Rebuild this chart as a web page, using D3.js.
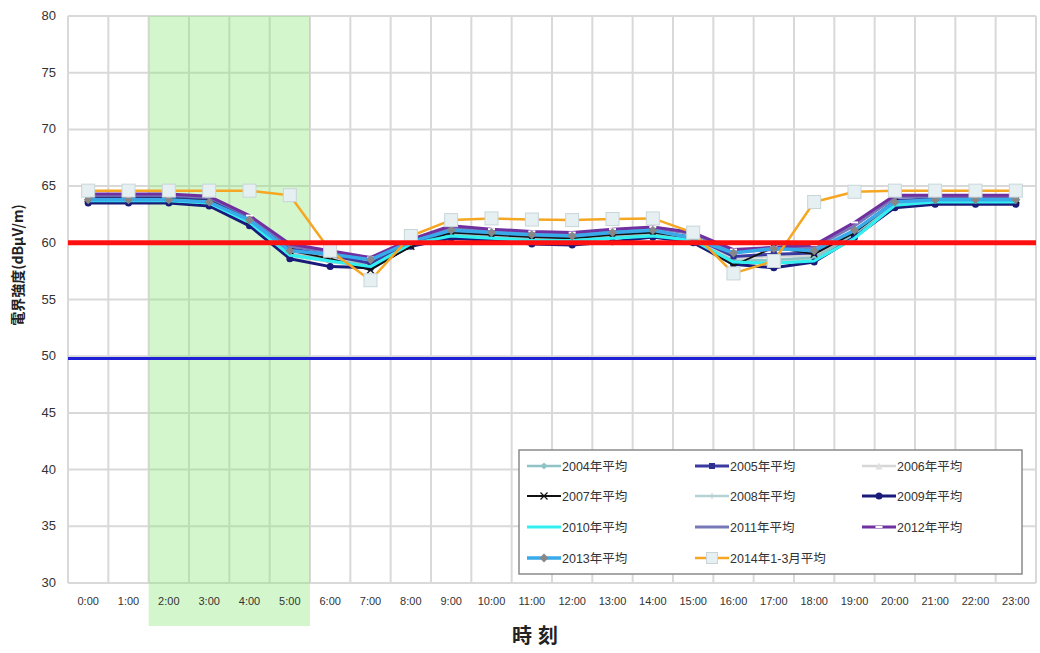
<!DOCTYPE html>
<html><head><meta charset="utf-8">
<script src="https://cdn.jsdelivr.net/npm/d3@7"></script>
<style>body{margin:0;background:#fff;} svg{display:block;}</style>
</head><body>
<svg id="chart" width="1040" height="653"></svg>
<script>
const hours = ["0:00","1:00","2:00","3:00","4:00","5:00","6:00","7:00","8:00","9:00","10:00","11:00","12:00","13:00","14:00","15:00","16:00","17:00","18:00","19:00","20:00","21:00","22:00","23:00"];
const yTicks = [30,35,40,45,50,55,60,65,70,75,80];
const greenHours = ["2:00","3:00","4:00","5:00"];
const redLimit = 60;
const blueLimit = 49.8;

const v2004 = [63.7,63.7,63.7,63.4,61.7,59.0,58.5,58.0,59.8,60.7,60.5,60.3,60.2,60.5,60.7,60.2,58.4,58.5,58.7,60.7,63.3,63.6,63.6,63.6];
const v2005 = [64.0,64.0,64.0,63.8,62.1,59.5,58.9,58.2,60.0,61.0,60.8,60.6,60.5,60.8,61.0,60.5,58.8,59.0,59.1,61.0,63.7,63.9,63.9,63.9];
const v2006 = [63.9,63.9,63.9,63.7,62.0,59.2,58.7,58.1,59.9,60.8,60.6,60.4,60.3,60.6,60.8,60.3,58.6,58.8,58.9,60.8,63.5,63.8,63.8,63.8];
const v2007 = [63.9,63.9,63.9,63.7,62.0,59.3,58.6,57.6,59.7,60.9,60.7,60.5,60.4,60.7,60.9,60.4,58.0,59.6,59.0,60.9,63.6,63.8,63.8,63.8];
const v2008 = [63.6,63.6,63.6,63.4,61.6,58.9,58.3,57.9,59.7,60.6,60.4,60.2,60.1,60.4,60.6,60.1,58.3,58.3,58.6,60.6,63.3,63.5,63.5,63.5];
const v2009 = [63.5,63.5,63.5,63.25,61.5,58.6,57.9,57.8,59.7,60.4,60.2,59.9,59.8,60.1,60.5,60.0,58.1,57.8,58.3,60.5,63.1,63.4,63.4,63.4];
const v2010 = [63.7,63.7,63.7,63.5,61.8,58.9,58.4,57.9,59.9,60.6,60.4,60.2,60.2,60.4,60.6,60.2,58.3,58.2,58.4,60.4,63.3,63.6,63.6,63.6];
const v2011 = [64.2,64.2,64.2,64.0,62.3,59.7,59.2,58.6,60.2,61.3,61.1,60.9,60.8,61.1,61.3,60.8,59.2,59.4,59.6,61.5,64.0,64.1,64.1,64.1];
const v2012 = [64.3,64.3,64.3,64.1,62.4,59.9,59.3,58.7,60.3,61.5,61.2,61.0,60.9,61.2,61.4,60.9,59.4,59.6,59.8,61.8,64.2,64.2,64.2,64.2];
const v2013 = [63.8,63.8,63.8,63.6,62.0,59.3,59.0,58.5,60.1,61.1,60.9,60.7,60.6,60.9,61.1,60.4,59.1,59.5,59.3,61.1,63.6,63.8,63.8,63.8];
const v2014 = [64.6,64.6,64.6,64.6,64.6,64.2,59.3,56.7,60.6,62.0,62.15,62.05,62.0,62.1,62.15,60.9,57.3,58.4,63.6,64.5,64.6,64.6,64.6,64.6];

const seriesNames = ["2004年平均","2005年平均","2006年平均","2007年平均","2008年平均","2009年平均","2010年平均","2011年平均","2012年平均","2013年平均","2014年1-3月平均"];
const seriesValues = [v2004,v2005,v2006,v2007,v2008,v2009,v2010,v2011,v2012,v2013,v2014];

const styles = [
  {color:"#8fc3c6", width:2.5, marker:"diamond", mfill:"#8fc3c6", msize:7},
  {color:"#3a3aa0", width:3, marker:"square", mfill:"#2e3192", msize:6},
  {color:"#d6d6d6", width:2.5, marker:"triangle", mfill:"#e0e0e0", msize:7},
  {color:"#111111", width:1.8, marker:"x", mfill:"#111111", msize:7},
  {color:"#b4d2d2", width:2.5, marker:"plus", mfill:"#b4d2d2", msize:6},
  {color:"#1a1a7a", width:3, marker:"circle", mfill:"#1a1a7a", msize:7},
  {color:"#33f0f0", width:3, marker:null},
  {color:"#7878b8", width:3, marker:null},
  {color:"#7030a0", width:3, marker:"dash", mfill:"#ffffff", msize:7},
  {color:"#38aaea", width:3.5, marker:"diamond", mfill:"#888888", msize:9},
  {color:"#f5a623", width:2.5, marker:"bigsquare", mfill:"#e6f0f2", msize:13}
];
const drawOrder = [4,2,0,5,1,3,7,8,6,9,10];

const svg = d3.select("#chart");
const M = {left:68, right:1036, top:16, bottom:583};
const x = d3.scaleBand().domain(hours).range([M.left, M.right]).padding(0);
const y = d3.scaleLinear().domain([30,80]).range([M.bottom, M.top]);
const cx = h => x(h) + x.bandwidth()/2;

// grid
const grid = svg.append("g");
grid.selectAll("line.h").data(yTicks).join("line")
  .attr("x1", M.left).attr("x2", M.right)
  .attr("y1", d=>y(d)).attr("y2", d=>y(d))
  .attr("stroke","#d9d9d9").attr("stroke-width",2);
grid.selectAll("line.v").data(hours.concat(["end"])).join("line")
  .attr("x1", (d,i)=> M.left + i*x.bandwidth()).attr("x2",(d,i)=> M.left + i*x.bandwidth())
  .attr("y1", M.top).attr("y2", M.bottom)
  .attr("stroke","#d9d9d9").attr("stroke-width",2);

// green band
svg.append("rect")
  .attr("x", x(greenHours[0]))
  .attr("y", M.top)
  .attr("width", x(greenHours[greenHours.length-1]) + x.bandwidth() - x(greenHours[0]))
  .attr("height", 626 - M.top)
  .attr("fill","#8ee878").attr("opacity",0.38);

// y axis labels
svg.append("g").selectAll("text").data(yTicks).join("text")
  .attr("x", 56).attr("y", d=>y(d)+4)
  .attr("text-anchor","end").attr("font-family","Liberation Sans, Arial, sans-serif")
  .attr("font-size",13).attr("fill","#333").text(d=>d);
svg.append("text")
  .attr("transform","translate(23,265) rotate(-90)")
  .attr("text-anchor","middle").attr("font-family","Noto Sans CJK JP, sans-serif")
  .attr("font-size",14).attr("font-weight","bold").attr("fill","#222")
  .text("電界強度(dBμV/m)");

// x labels
svg.append("g").selectAll("text").data(hours).join("text")
  .attr("x", d=>cx(d)).attr("y", 605)
  .attr("text-anchor","middle").attr("font-family","Liberation Sans, Arial, sans-serif")
  .attr("font-size",11).attr("fill","#333").text(d=>d);
svg.append("text")
  .attr("x", 538).attr("y", 643).attr("text-anchor","middle")
  .attr("font-family","Noto Sans CJK JP, sans-serif").attr("font-size",20)
  .attr("font-weight","bold").attr("fill","#222").attr("letter-spacing",6).text("時刻");

function drawMarker(g, st, px, py) {
  const s = st.msize;
  if (!st.marker) return;
  if (st.marker === "diamond") {
    g.append("path").attr("d", `M${px},${py-s/2}L${px+s/2},${py}L${px},${py+s/2}L${px-s/2},${py}Z`).attr("fill", st.mfill);
  } else if (st.marker === "square") {
    g.append("rect").attr("x",px-s/2).attr("y",py-s/2).attr("width",s).attr("height",s).attr("fill",st.mfill);
  } else if (st.marker === "bigsquare") {
    g.append("rect").attr("x",px-s/2).attr("y",py-s/2).attr("width",s).attr("height",s).attr("fill",st.mfill)
      .attr("stroke","#c8d6d8").attr("stroke-width",1);
  } else if (st.marker === "triangle") {
    g.append("path").attr("d", `M${px},${py-s/2}L${px+s/2},${py+s/2}L${px-s/2},${py+s/2}Z`).attr("fill", st.mfill);
  } else if (st.marker === "circle") {
    g.append("circle").attr("cx",px).attr("cy",py).attr("r",s/2).attr("fill",st.mfill);
  } else if (st.marker === "x") {
    g.append("path").attr("d", `M${px-s/2},${py-s/2}L${px+s/2},${py+s/2}M${px-s/2},${py+s/2}L${px+s/2},${py-s/2}`)
      .attr("stroke", st.mfill).attr("stroke-width",1.2);
  } else if (st.marker === "plus") {
    g.append("path").attr("d", `M${px-s/2},${py}L${px+s/2},${py}M${px},${py-s/2}L${px},${py+s/2}`)
      .attr("stroke", st.mfill).attr("stroke-width",1);
  } else if (st.marker === "dash") {
    g.append("rect").attr("x",px-s/2).attr("y",py-1).attr("width",s).attr("height",2).attr("fill",st.mfill);
  }
}

const line = d3.line().x((d,i)=>cx(hours[i])).y(d=>y(d));
const plotG = svg.append("g");
drawOrder.forEach(k => {
  const st = styles[k];
  const g = plotG.append("g");
  g.append("path").datum(seriesValues[k]).attr("d", line)
    .attr("fill","none").attr("stroke", st.color).attr("stroke-width", st.width)
    .attr("stroke-linejoin","round");
  seriesValues[k].forEach((v,i)=> drawMarker(g, st, cx(hours[i]), y(v)));
});

// reference lines (on top)
svg.append("line").attr("x1",M.left).attr("x2",M.right).attr("y1",y(redLimit)).attr("y2",y(redLimit))
  .attr("stroke","#ff1010").attr("stroke-width",5);
svg.append("line").attr("x1",M.left).attr("x2",M.right).attr("y1",y(blueLimit)).attr("y2",y(blueLimit))
  .attr("stroke","#1f1fd6").attr("stroke-width",3);

// legend
const lg = svg.append("g");
lg.append("rect").attr("x",519).attr("y",450).attr("width",503).attr("height",124)
  .attr("fill","#fff").attr("stroke","#8a8a8a").attr("stroke-width",1.5);
const colX = [527, 695, 862];
const rowY = [466, 496, 527, 558];
seriesNames.forEach((name,i)=>{
  const c = i % 3, r = Math.floor(i/3);
  const sx = colX[c], sy = rowY[r];
  const st = styles[i];
  const g = lg.append("g");
  g.append("line").attr("x1",sx).attr("x2",sx+34).attr("y1",sy).attr("y2",sy)
    .attr("stroke",st.color).attr("stroke-width",st.width);
  const ms = Object.assign({}, st);
  if (st.marker === "bigsquare") ms.msize = 11;
  drawMarker(g, ms, sx+17, sy);
  g.append("text").attr("x",sx+35).attr("y",sy+5)
    .attr("font-family","Liberation Sans, Arial, Noto Sans CJK JP, sans-serif")
    .attr("font-size",12.5).attr("fill","#333").text(name);
});
</script>
</body></html>
